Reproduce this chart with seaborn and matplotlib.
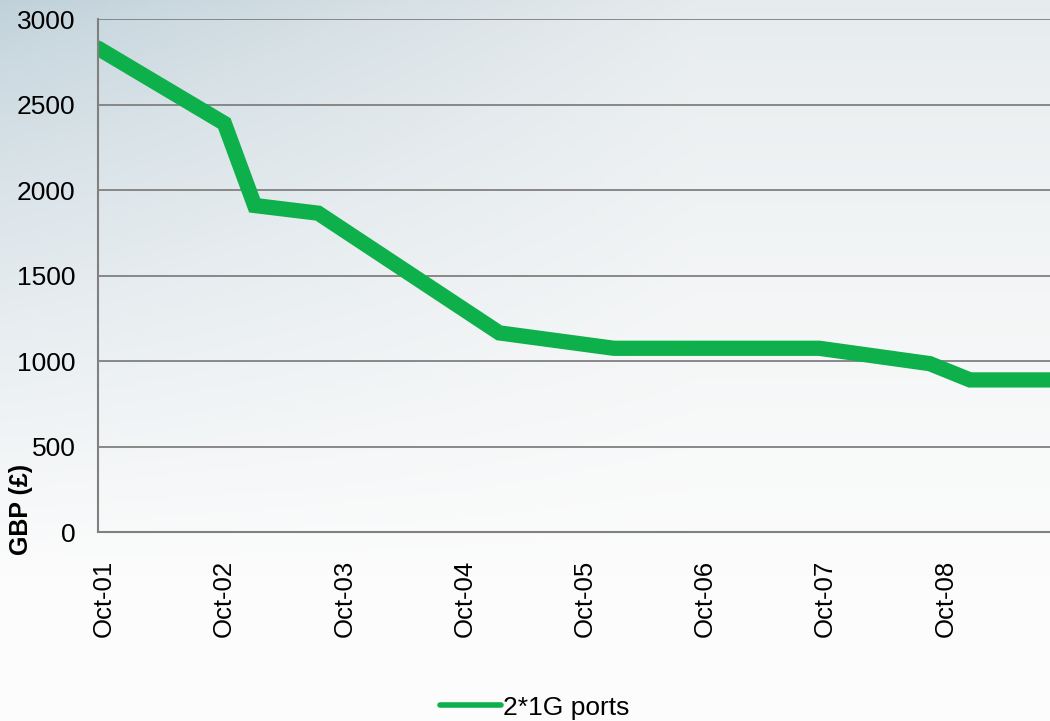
import numpy as np
import pandas as pd
import matplotlib
matplotlib.use("Agg")
import matplotlib.pyplot as plt
import matplotlib.dates as mdates
import matplotlib.transforms as mtransforms
import seaborn as sns

# Valeurs
dates = ["2001-10-01", "2002-10-20", "2003-01-20", "2003-08-01", "2005-02-01",
         "2006-01-15", "2007-10-01", "2008-09-01", "2009-01-01", "2009-09-01"]
prices = [2830, 2390, 1910, 1865, 1165, 1075, 1075, 985, 890, 890]
series_name = "2*1G ports"
y_ticks = [0, 500, 1000, 1500, 2000, 2500, 3000]

df = pd.DataFrame({"date": pd.to_datetime(dates), "value": prices, "series": series_name})

sns.set_style("white")
plt.rcParams["font.family"] = ["Liberation Sans", "DejaVu Sans"]
plt.rcParams["text.color"] = "black"
plt.rcParams["axes.labelcolor"] = "black"
plt.rcParams["xtick.labelcolor"] = "black"
plt.rcParams["ytick.labelcolor"] = "black"

fig = plt.figure(figsize=(10.5, 7.21), dpi=100)

# fond dégradé façon ciel
bg = fig.add_axes([0, 0, 1, 1], zorder=-10)
h, w = 200, 300
yy, xx = np.mgrid[0:1:h * 1j, 0:1:w * 1j]
top = np.array([192, 209, 218]) / 255
top_right = np.array([230, 235, 237]) / 255
bottom = np.array([252, 252, 252]) / 255
t_x = np.clip(xx * 1.5, 0, 1)[..., None]
top_col = top * (1 - t_x) + top_right * t_x
t_y = np.clip(yy / 0.8, 0, 1)[..., None] ** 0.75
img = top_col * (1 - t_y) + bottom * t_y
bg.imshow(img, aspect="auto", extent=[0, 1, 0, 1], origin="upper")
bg.axis("off")

ax = fig.add_axes([0.0933, 0.262, 0.9067, 0.7115])
ax.patch.set_alpha(0)

sns.lineplot(data=df, x="date", y="value", hue="series", palette=["#0db04b"],
             linewidth=11, ax=ax, solid_joinstyle="miter")

ax.set_xlim(pd.Timestamp("2001-10-01"), pd.Timestamp("2009-09-01"))
ax.set_ylim(0, 3000)
ax.set_yticks(y_ticks)
ax.yaxis.grid(True, color="#808080", linewidth=1.3)
ax.xaxis.grid(False)

ax.xaxis.set_major_locator(mdates.MonthLocator(bymonth=10))
ax.xaxis.set_major_formatter(mdates.DateFormatter("%b-%y"))
ax.tick_params(axis="x", direction="in", length=6, width=1.2, color="#808080",
               labelsize=18.5, rotation=90, pad=20)
ax.tick_params(axis="y", length=0, labelsize=19, pad=16)

# petit décalage des étiquettes de dates vers la droite
offset = mtransforms.ScaledTranslation(6 / 100, 0, fig.dpi_scale_trans)
for lbl in ax.get_xticklabels():
    lbl.set_transform(lbl.get_transform() + offset)

for side in ["top", "right"]:
    ax.spines[side].set_visible(False)
for side in ["left", "bottom"]:
    ax.spines[side].set_color("#808080")
    ax.spines[side].set_linewidth(1.5)

ax.set_xlabel("")
ax.set_ylabel("GBP (£)", fontsize=18, fontweight="bold")
ax.yaxis.set_label_coords(-0.068, 0.045)

leg = ax.legend(loc="center", bbox_to_anchor=(0.459, -0.342), frameon=False,
                fontsize=19, handlelength=2.3, handletextpad=0.1)
for line in leg.get_lines():
    line.set_linewidth(4)

fig.savefig("out.png", dpi=100)
